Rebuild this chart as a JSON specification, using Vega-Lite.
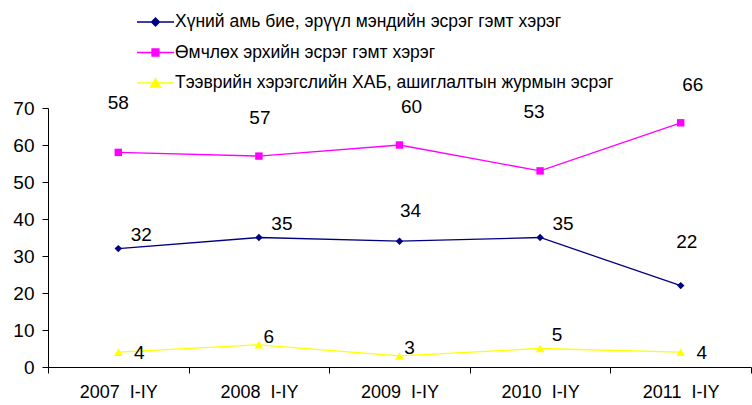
{
  "$schema": "https://vega.github.io/schema/vega-lite/v6.json",
  "width": 703,
  "height": 259,
  "autosize": {"type": "none"},
  "padding": {"left": 48, "top": 108, "right": 1, "bottom": 38},
  "config": {"view": {"stroke": null}, "font": "Liberation Sans"},
  "data": {
    "values": [
      {"period": "2007\u00a0\u00a0I-IY", "series": "Хүний амь бие, эрүүл мэндийн эсрэг гэмт хэрэг", "value": 32},
      {"period": "2008\u00a0\u00a0I-IY", "series": "Хүний амь бие, эрүүл мэндийн эсрэг гэмт хэрэг", "value": 35},
      {"period": "2009\u00a0\u00a0I-IY", "series": "Хүний амь бие, эрүүл мэндийн эсрэг гэмт хэрэг", "value": 34},
      {"period": "2010\u00a0\u00a0I-IY", "series": "Хүний амь бие, эрүүл мэндийн эсрэг гэмт хэрэг", "value": 35},
      {"period": "2011\u00a0\u00a0I-IY", "series": "Хүний амь бие, эрүүл мэндийн эсрэг гэмт хэрэг", "value": 22},
      {"period": "2007\u00a0\u00a0I-IY", "series": "Өмчлөх эрхийн эсрэг гэмт хэрэг", "value": 58},
      {"period": "2008\u00a0\u00a0I-IY", "series": "Өмчлөх эрхийн эсрэг гэмт хэрэг", "value": 57},
      {"period": "2009\u00a0\u00a0I-IY", "series": "Өмчлөх эрхийн эсрэг гэмт хэрэг", "value": 60},
      {"period": "2010\u00a0\u00a0I-IY", "series": "Өмчлөх эрхийн эсрэг гэмт хэрэг", "value": 53},
      {"period": "2011\u00a0\u00a0I-IY", "series": "Өмчлөх эрхийн эсрэг гэмт хэрэг", "value": 66},
      {"period": "2007\u00a0\u00a0I-IY", "series": "Тээврийн хэрэгслийн ХАБ, ашиглалтын журмын эсрэг", "value": 4},
      {"period": "2008\u00a0\u00a0I-IY", "series": "Тээврийн хэрэгслийн ХАБ, ашиглалтын журмын эсрэг", "value": 6},
      {"period": "2009\u00a0\u00a0I-IY", "series": "Тээврийн хэрэгслийн ХАБ, ашиглалтын журмын эсрэг", "value": 3},
      {"period": "2010\u00a0\u00a0I-IY", "series": "Тээврийн хэрэгслийн ХАБ, ашиглалтын журмын эсрэг", "value": 5},
      {"period": "2011\u00a0\u00a0I-IY", "series": "Тээврийн хэрэгслийн ХАБ, ашиглалтын журмын эсрэг", "value": 4}
    ]
  },
  "encoding": {
    "x": {
      "field": "period", "type": "ordinal", "sort": null, "bandPosition": 0.5,
      "scale": {"type": "band", "paddingInner": 0, "paddingOuter": 0},
      "axis": {"title": null, "labelAngle": 0, "tickBand": "extent", "tickSize": 6, "labelFontSize": 18, "labelPadding": 10, "domainColor": "#000", "tickColor": "#000", "labelColor": "#000", "grid": false}
    },
    "y": {
      "field": "value", "type": "quantitative",
      "scale": {"domain": [0, 70]},
      "axis": {"title": null, "values": [0, 10, 20, 30, 40, 50, 60, 70], "grid": false, "tickSize": 6, "labelFontSize": 19, "labelPadding": 8, "domainColor": "#000", "tickColor": "#000", "labelColor": "#000"}
    }
  },
  "layer": [
    {
      "mark": {"type": "line", "strokeWidth": 1.3},
      "encoding": {
        "color": {
          "field": "series", "type": "nominal",
          "scale": {"domain": ["Хүний амь бие, эрүүл мэндийн эсрэг гэмт хэрэг", "Өмчлөх эрхийн эсрэг гэмт хэрэг", "Тээврийн хэрэгслийн ХАБ, ашиглалтын журмын эсрэг"], "range": ["#000080", "#FF00FF", "#FFFF00"]},
          "legend": {
            "orient": "none", "legendX": 96.5, "legendY": -97, "title": null, "direction": "vertical",
            "symbolSize": 400, "symbolStrokeWidth": 1.3, "labelFontSize": 17.5, "labelOffset": 8.5, "rowPadding": 10.5, "padding": 0,
            "labelColor": "#000", "labelLimit": 0,
            "encode": {
              "symbols": {
                "update": {
                  "shape": {"signal": "datum.value === 'Хүний амь бие, эрүүл мэндийн эсрэг гэмт хэрэг' ? 'M-1.85,0H1.85M-0.4,0L0,-0.4L0.4,0L0,0.4Z' : datum.value === 'Өмчлөх эрхийн эсрэг гэмт хэрэг' ? 'M-1.85,0H1.85M-0.35,-0.35H0.35V0.35H-0.35Z' : 'M-1.85,0H1.85M-0.5,0.4L0,-0.45L0.5,0.4Z'"},
                  "fill": {"signal": "scale('color', datum.value)"},
                  "stroke": {"signal": "scale('color', datum.value)"},
                  "opacity": {"value": 1}
                }
              }
            }
          }
        }
      }
    },
    {
      "transform": [{"filter": "datum.series === 'Хүний амь бие, эрүүл мэндийн эсрэг гэмт хэрэг'"}],
      "mark": {"type": "point", "filled": true, "opacity": 1, "size": 55, "shape": "diamond", "color": "#000080"},
      "encoding": {}
    },
    {
      "transform": [{"filter": "datum.series === 'Өмчлөх эрхийн эсрэг гэмт хэрэг'"}],
      "mark": {"type": "point", "filled": true, "opacity": 1, "size": 55, "shape": "square", "color": "#FF00FF"},
      "encoding": {}
    },
    {
      "transform": [{"filter": "datum.series === 'Тээврийн хэрэгслийн ХАБ, ашиглалтын журмын эсрэг'"}],
      "mark": {"type": "point", "filled": true, "opacity": 1, "size": 75, "shape": "triangle-up", "color": "#FFFF00"},
      "encoding": {}
    },
    {
      "transform": [{"filter": "datum.series === 'Өмчлөх эрхийн эсрэг гэмт хэрэг' && indexof(['2009', '2011'], slice(datum.period, 0, 4)) >= 0"}],
      "mark": {"type": "text", "fontSize": 19, "color": "#000", "dx": 12, "dy": -38},
      "encoding": {"text": {"field": "value", "type": "quantitative"}}
    },
    {
      "transform": [{"filter": "datum.series === 'Өмчлөх эрхийн эсрэг гэмт хэрэг' && slice(datum.period, 0, 4) === '2008'"}],
      "mark": {"type": "text", "fontSize": 19, "color": "#000", "dx": 1, "dy": -38},
      "encoding": {"text": {"field": "value", "type": "quantitative"}}
    },
    {
      "transform": [{"filter": "datum.series === 'Өмчлөх эрхийн эсрэг гэмт хэрэг' && slice(datum.period, 0, 4) === '2007'"}],
      "mark": {"type": "text", "fontSize": 19, "color": "#000", "dx": 0, "dy": -49},
      "encoding": {"text": {"field": "value", "type": "quantitative"}}
    },
    {
      "transform": [{"filter": "datum.series === 'Өмчлөх эрхийн эсрэг гэмт хэрэг' && slice(datum.period, 0, 4) === '2010'"}],
      "mark": {"type": "text", "fontSize": 19, "color": "#000", "dx": -6, "dy": -59},
      "encoding": {"text": {"field": "value", "type": "quantitative"}}
    },
    {
      "transform": [{"filter": "datum.series === 'Хүний амь бие, эрүүл мэндийн эсрэг гэмт хэрэг' && indexof(['2007', '2008', '2010'], slice(datum.period, 0, 4)) >= 0"}],
      "mark": {"type": "text", "fontSize": 19, "color": "#000", "dx": 23, "dy": -14},
      "encoding": {"text": {"field": "value", "type": "quantitative"}}
    },
    {
      "transform": [{"filter": "datum.series === 'Хүний амь бие, эрүүл мэндийн эсрэг гэмт хэрэг' && slice(datum.period, 0, 4) === '2009'"}],
      "mark": {"type": "text", "fontSize": 19, "color": "#000", "dx": 11, "dy": -30},
      "encoding": {"text": {"field": "value", "type": "quantitative"}}
    },
    {
      "transform": [{"filter": "datum.series === 'Хүний амь бие, эрүүл мэндийн эсрэг гэмт хэрэг' && slice(datum.period, 0, 4) === '2011'"}],
      "mark": {"type": "text", "fontSize": 19, "color": "#000", "dx": 6, "dy": -44},
      "encoding": {"text": {"field": "value", "type": "quantitative"}}
    },
    {
      "transform": [{"filter": "datum.series === 'Тээврийн хэрэгслийн ХАБ, ашиглалтын журмын эсрэг' && indexof(['2007', '2011'], slice(datum.period, 0, 4)) >= 0"}],
      "mark": {"type": "text", "fontSize": 19, "color": "#000", "dx": 21, "dy": 1},
      "encoding": {"text": {"field": "value", "type": "quantitative"}}
    },
    {
      "transform": [{"filter": "datum.series === 'Тээврийн хэрэгслийн ХАБ, ашиглалтын журмын эсрэг' && indexof(['2008', '2009'], slice(datum.period, 0, 4)) >= 0"}],
      "mark": {"type": "text", "fontSize": 19, "color": "#000", "dx": 10, "dy": -8},
      "encoding": {"text": {"field": "value", "type": "quantitative"}}
    },
    {
      "transform": [{"filter": "datum.series === 'Тээврийн хэрэгслийн ХАБ, ашиглалтын журмын эсрэг' && slice(datum.period, 0, 4) === '2010'"}],
      "mark": {"type": "text", "fontSize": 19, "color": "#000", "dx": 17, "dy": -14},
      "encoding": {"text": {"field": "value", "type": "quantitative"}}
    }
  ]
}
